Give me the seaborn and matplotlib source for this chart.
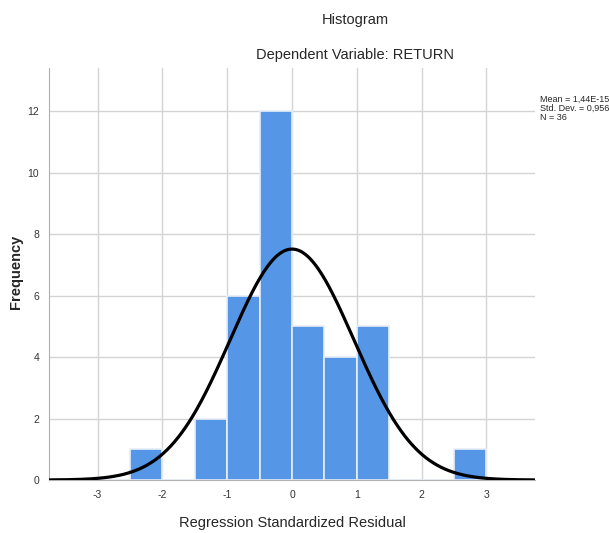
import numpy as np
import pandas as pd
import seaborn as sns
import matplotlib.pyplot as plt

sns.set_style("white")
plt.rcParams['font.family'] = ['Liberation Sans', 'DejaVu Sans']
plt.rcParams['axes.unicode_minus'] = False

# histogram bins (width 0.5) and counts
bin_left = [-2.5, -1.5, -1.0, -0.5, 0.0, 0.5, 1.0, 2.5]
counts = [1, 2, 6, 12, 5, 4, 5, 1]
mean_val = 1.44e-15
std_val = 0.956
n_obs = 36

df = pd.DataFrame({"resid": np.array(bin_left) + 0.25, "count": counts})

fig = plt.figure(figsize=(6.09, 5.33), dpi=100)
ax = fig.add_axes([0.0805, 0.0994, 0.798, 0.773])

sns.histplot(data=df, x="resid", weights="count", binwidth=0.5, binrange=(-3.5, 3.5), ax=ax,
             color="#5596e6", alpha=1, edgecolor="#e8eef8", linewidth=1.2, zorder=2)

xs = np.linspace(-3.75, 3.75, 400)
ys = n_obs * 0.5 / (std_val * np.sqrt(2 * np.pi)) * np.exp(-0.5 * ((xs - mean_val) / std_val) ** 2)
sns.lineplot(x=xs, y=ys, ax=ax, color="black", linewidth=2.3, zorder=3)

ax.set_xlim(-3.75, 3.75)
ax.set_ylim(0, 13.4)
ax.set_xticks([-3, -2, -1, 0, 1, 2, 3])
ax.set_yticks([0, 2, 4, 6, 8, 10, 12])
ax.grid(True, color="#d4d4d4", linewidth=1, zorder=0)
ax.set_axisbelow(True)
ax.tick_params(length=0, labelsize=7.5, colors="#333333", pad=7)
for s in ["top", "right"]:
    ax.spines[s].set_visible(False)
ax.spines["left"].set_color("#b0b0b0")
ax.spines["bottom"].set_color("#b0b0b0")

ax.set_xlabel("Regression Standardized Residual", fontsize=10.5)
ax.set_ylabel("Frequency", fontsize=10.5, fontweight="bold")
# place axis titles where the reference has them
ax.xaxis.set_label_coords((292 - 49) / 486, -(523 - 480) / 412)
ax.yaxis.set_label_coords(-(49 - 16) / 486, (480 - 272) / 412)
ax.xaxis.label.set_va("center")
ax.yaxis.label.set_va("center")

fig.text(355 / 609, 1 - 20 / 533, "Histogram", ha="center", va="center", fontsize=10.5)
fig.text(355 / 609, 1 - 55 / 533, "Dependent Variable: RETURN", ha="center", va="center", fontsize=10.5)
fig.text(540 / 609, 1 - 95 / 533, "Mean = 1,44E-15\nStd. Dev. = 0,956\nN = 36",
         ha="left", va="top", fontsize=6.5, linespacing=1.0)

fig.savefig("out.png", dpi=100)
